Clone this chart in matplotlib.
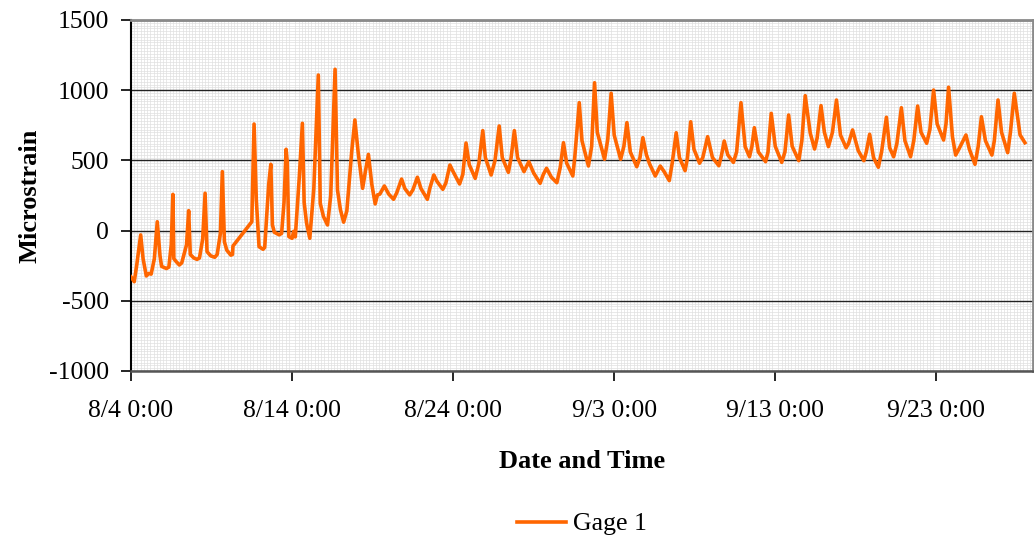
import datetime as dt
import matplotlib
matplotlib.use("Agg")
import matplotlib.pyplot as plt
import matplotlib.dates as mdates
from matplotlib.ticker import MultipleLocator, FuncFormatter

# Gage 1 strain record: elapsed days since 8/4 0:00 and microstrain readings
start = dt.datetime(2003, 8, 4, 0, 0)
series_name = "Gage 1"

elapsed_days = [
    0.0, 0.2, 0.35, 0.6, 0.75, 0.95, 1.1, 1.25, 1.45, 1.63, 1.8, 1.9, 2.2, 2.35,
    2.5, 2.6, 2.66, 2.8, 3.0, 3.15, 3.45, 3.58, 3.68, 3.9, 4.1, 4.25,
    4.45, 4.6, 4.72, 4.95, 5.2, 5.35, 5.55, 5.67, 5.8, 5.95, 6.2, 6.3, 6.33,
    7.5, 7.64, 7.78, 7.95, 8.2, 8.3, 8.55, 8.68, 8.78, 8.9, 9.2, 9.35, 9.5,
    9.63, 9.7, 9.8, 10.0, 10.1, 10.2, 10.45, 10.64, 10.75, 10.9, 11.1, 11.35,
    11.63, 11.75, 11.95, 12.2, 12.4, 12.67, 12.82, 13.0, 13.2, 13.4, 13.7,
    13.9, 14.1, 14.38, 14.55, 14.74, 14.95, 15.16, 15.3, 15.45, 15.73, 16.0,
    16.3, 16.5, 16.8, 17.0, 17.3, 17.5, 17.78, 18.0, 18.4, 18.55, 18.8, 19.0,
    19.36, 19.55, 19.8, 20.0, 20.4, 20.6, 20.8, 21.0, 21.37, 21.6, 21.84, 22.0,
    22.36, 22.6, 22.86, 23.05, 23.43, 23.6, 23.8, 24.0, 24.4, 24.7, 25.0, 25.4,
    25.6, 25.8, 26.1, 26.44, 26.65, 26.85, 27.05, 27.43, 27.55, 27.83, 28.0,
    28.4, 28.6, 28.78, 28.95, 29.4, 29.6, 29.81, 30.0, 30.4, 30.6, 30.79, 31.0,
    31.4, 31.6, 31.78, 32.0, 32.2, 32.55, 32.86, 33.1, 33.42, 33.6, 33.85,
    34.05, 34.4, 34.55, 34.75, 34.95, 35.3, 35.5, 35.8, 36.1, 36.5, 36.65,
    36.83, 37.05, 37.4, 37.6, 37.87, 38.13, 38.4, 38.55, 38.7, 38.95, 39.4,
    39.55, 39.75, 40.0, 40.4, 40.6, 40.83, 41.05, 41.46, 41.65, 41.86, 42.17,
    42.44, 42.6, 42.84, 43.05, 43.3, 43.55, 43.8, 44.05, 44.4, 44.55, 44.8,
    45.15, 45.5, 45.65, 45.86, 46.1, 46.4, 46.6, 46.9, 47.1, 47.35, 47.55,
    47.83, 48.05, 48.4, 48.6, 48.84, 49.05, 49.4, 49.6, 49.83, 50.05, 50.45,
    50.6, 50.76, 51.0, 51.2, 51.4, 51.84, 52.05, 52.4, 52.6, 52.8, 53.05,
    53.45, 53.6, 53.83, 54.05, 54.43, 54.6, 54.84, 55.2, 55.5,
]

microstrain = [
    -330, -364, -250, -31, -200, -323, -305, -310, -200, 63, -180, -255, -270, -260,
    -100, 258, -200, -220, -245, -230, -100, 142, -170, -195, -205, -195,
    -60, 266, -150, -180, -190, -170, -20, 420, -80, -140, -175, -170, -110,
    63, 759, 218, -115, -133, -120, 330, 472, 40, -12, -30, -20, 200,
    579, 490, -43, -55, -5, -45, 384, 764, 200, 54, -55, 300,
    1108, 194, 100, 40, 250, 1149, 289, 150, 60, 140, 560,
    788, 560, 301, 420, 543, 330, 190, 254, 260, 318, 260,
    223, 270, 367, 300, 254, 290, 380, 300, 223, 300, 396, 350,
    294, 340, 467, 420, 332, 400, 624, 470, 372, 480, 712, 520,
    396, 500, 745, 520, 415, 520, 712, 520, 420, 491, 410, 337,
    400, 444, 380, 341, 450, 626, 480, 389, 520, 911, 640,
    460, 600, 1053, 700, 508, 650, 978, 680, 508, 600, 769, 560,
    455, 520, 662, 540, 474, 389, 460, 420, 356, 480, 697,
    520, 427, 520, 775, 580, 480, 520, 669, 520, 462, 530,
    638, 540, 486, 560, 911, 598, 526, 600, 733, 560, 491,
    560, 835, 600, 486, 560, 823, 600, 498, 640, 961, 695,
    581, 660, 890, 700, 598, 700, 930, 680, 590, 620, 717,
    570, 498, 560, 686, 520, 451, 560, 807, 590, 526, 620,
    875, 640, 526, 640, 887, 700, 622, 720, 1001, 760, 645,
    760, 1021, 669, 538, 580, 681, 580, 472, 600, 811, 640,
    538, 640, 930, 700, 555, 700, 978, 681, 626,
]

x_tick_days = [0, 10, 20, 30, 40, 50]
x_span_days = 56
y_ticks = [-1000, -500, 0, 500, 1000, 1500]

timestamps = [start + dt.timedelta(days=d) for d in elapsed_days]

plt.rcParams["font.family"] = ["Liberation Serif", "DejaVu Serif"]
plt.rcParams["axes.unicode_minus"] = False

fig = plt.figure(figsize=(10.34, 5.39), dpi=100)
ax = fig.add_axes([0.1267, 0.3117, 0.8723, 0.6512])

ax.plot(timestamps, microstrain, color="#FF6600", linewidth=2.6,
        solid_joinstyle="round", label=series_name, zorder=3)

ax.set_xlim(start, start + dt.timedelta(days=x_span_days))
ax.set_ylim(y_ticks[0], y_ticks[-1])

ax.set_xticks([start + dt.timedelta(days=d) for d in x_tick_days])
ax.set_yticks(y_ticks)


def fmt_date(value, pos=None):
    d = mdates.num2date(value)
    return f"{d.month}/{d.day} {d.hour}:{d.minute:02d}"


ax.xaxis.set_major_formatter(FuncFormatter(fmt_date))

# fine background grid
ax.xaxis.set_minor_locator(MultipleLocator(0.2))
ax.yaxis.set_minor_locator(MultipleLocator(20))
ax.grid(which="minor", color="#e0e0e0", linewidth=0.5, zorder=0)
ax.grid(which="major", axis="y", color="#222222", linewidth=1.0, zorder=1)
ax.set_axisbelow(True)

ax.tick_params(which="minor", length=0)
ax.tick_params(which="major", direction="out", length=7, width=1.2,
               labelsize=18.5, colors="black")
ax.tick_params(axis="x", pad=14)
ax.tick_params(axis="y", pad=9)

for side in ("top", "right"):
    ax.spines[side].set_color("#8a8a8a")
    ax.spines[side].set_linewidth(2.0)
ax.spines["left"].set_color("black")
ax.spines["left"].set_linewidth(1.5)
ax.spines["bottom"].set_color("#555555")
ax.spines["bottom"].set_linewidth(1.8)

ax.set_xlabel("Date and Time", fontsize=19, fontweight="bold", labelpad=20)
ax.set_ylabel("Microstrain", fontsize=19, fontweight="bold", labelpad=5)

fig.legend(loc="center", bbox_to_anchor=(582 / 1034, 15 / 539), frameon=False,
           fontsize=18.5, handlelength=1.9, handletextpad=0.3)

fig.savefig("out.png", dpi=100, facecolor="white")
